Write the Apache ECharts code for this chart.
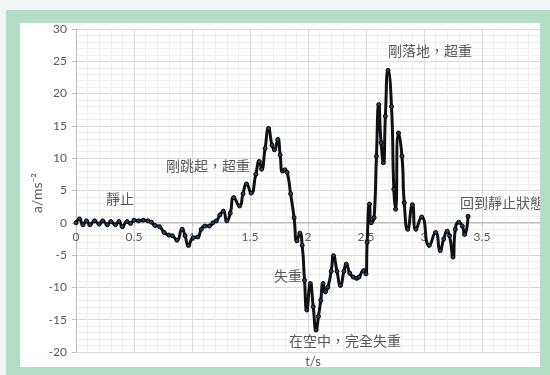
<!DOCTYPE html>
<html>
<head>
<meta charset="utf-8">
<script src="https://cdn.jsdelivr.net/npm/echarts@6/dist/echarts.min.js"></script>
<style>
  html, body { margin: 0; padding: 0; background: #f0f6f6; width: 550px; height: 375px; overflow: hidden; }
  #frame { position: absolute; left: 6px; top: 10px; width: 544px; height: 365px; background: #b3dec5; }
  #chart { position: absolute; left: 20px; top: 23px; width: 520px; height: 344px; background: #ffffff; }
</style>
</head>
<body>
<div id="frame"></div>
<div id="chart"></div>
<script>
// time (s)
var times = [
  0, 0.03, 0.06, 0.09, 0.12, 0.16, 0.20, 0.23, 0.27, 0.30,
  0.34, 0.37, 0.40, 0.44, 0.47, 0.50, 0.54, 0.58, 0.62, 0.65,
  0.68, 0.72, 0.76, 0.80, 0.83, 0.87, 0.915, 0.94, 0.97, 1.01,
  1.05, 1.08, 1.11, 1.15, 1.18, 1.21, 1.24, 1.27, 1.30, 1.33,
  1.36, 1.41, 1.44, 1.47, 1.51, 1.55, 1.58, 1.60, 1.63, 1.66,
  1.69, 1.71, 1.74, 1.76, 1.78, 1.80, 1.82, 1.85, 1.88, 1.905,
  1.93, 1.95, 1.97, 1.99, 2.02, 2.045, 2.07, 2.09, 2.11, 2.13,
  2.15, 2.17, 2.20, 2.22, 2.25, 2.28, 2.31, 2.33, 2.36, 2.39,
  2.42, 2.44, 2.48, 2.50, 2.51, 2.53, 2.545, 2.57, 2.59, 2.61,
  2.63, 2.65, 2.667, 2.69, 2.72, 2.74, 2.755, 2.78, 2.81, 2.83,
  2.86, 2.90, 2.93, 2.98, 3.045, 3.10, 3.14, 3.17, 3.20, 3.22,
  3.25, 3.27, 3.30, 3.33, 3.35, 3.38
];
// acceleration (m/s^2)
var accel = [
  0.0, 0.6, -0.3, 0.3, -0.3, 0.3, -0.2, 0.3, -0.3, 0.2,
  -0.3, 0.2, -0.6, 0.2, -0.1, 0.4, 0.3, 0.4, 0.3, 0.1,
  -0.4, -0.6, -1.5, -1.9, -2.0, -2.7, -1.0, -2.0, -3.5, -2.3,
  -2.2, -1.0, -0.5, -0.5, 0.0, 0.3, 1.2, 1.8, 0.3, 1.5,
  3.9, 2.6, 4.5, 6.0, 4.6, 7.5, 9.5, 8.3, 11.5, 14.6,
  12.0, 11.3, 12.9, 10.5, 8.0, 8.2, 7.8, 4.5, 0.8, -2.8,
  -1.6, -3.5, -8.9, -13.5, -9.4, -13.0, -16.6, -14.5, -12.0, -9.4,
  -10.7, -10.0, -7.5, -5.1, -7.5, -9.7, -7.5, -6.4, -7.8, -8.4,
  -8.6, -8.4, -7.4, -7.9, -3.0, 2.9, 0.0, 0.8, 10.3, 18.3,
  12.4, 9.3, 16.5, 23.6, 18.0, 5.2, 2.1, 13.9, 10.3, 3.1,
  -1.0, 2.8, -1.0, 0.9, -3.5, -1.5, -4.3, -2.5, -1.3, -2.0,
  -5.3, -1.0, 0.1, -0.5, -1.8, 1.0
];
var yTicks = { min: -20, max: 30, interval: 5 };
var xTicks = { min: 0, max: 4, interval: 0.5 };
var notes = [
  { text: '靜止', x: 100, y: 176, align: 'center' },
  { text: '剛跳起，超重', x: 188, y: 143, align: 'center' },
  { text: '失重', x: 268, y: 253, align: 'center' },
  { text: '在空中，完全失重', x: 325, y: 318, align: 'center' },
  { text: '剛落地，超重', x: 410, y: 28, align: 'center' },
  { text: '回到靜止狀態', x: 440, y: 180, align: 'left' }
];

var data = times.map(function (t, i) { return [t, accel[i]]; });
var chart = echarts.init(document.getElementById('chart'), null, { renderer: 'canvas' });
var labelFont = { color: '#595959', fontSize: 12, fontFamily: 'Lato, "Liberation Sans", sans-serif' };
var gridMajor = { show: true, lineStyle: { color: '#d9d9d9', width: 1 } };
var gridMinor = { show: true, lineStyle: { color: '#efefef', width: 1 } };

var gridTop = 4, gridHeight = 325;
// offset to move the x axis (line + labels) up to the y = 0 position
var zeroOffset = -gridHeight * (0 - yTicks.min) / (yTicks.max - yTicks.min);

var graphics = notes.map(function (n) {
  return {
    type: 'text', x: n.x, y: n.y, z: 50,
    style: { text: n.text, fill: '#595959', fontSize: 14, fontFamily: '"Noto Sans CJK TC", sans-serif',
      textAlign: n.align, textVerticalAlign: 'middle' }
  };
});
graphics.push({
  type: 'text', x: 293, y: 339, z: 50,
  style: { text: 't/s', fill: '#595959', fontSize: 13, fontFamily: 'Lato, sans-serif', textAlign: 'center', textVerticalAlign: 'middle' }
});
graphics.push({
  type: 'text', x: 17, y: 170, rotation: Math.PI / 2, z: 50,
  style: { text: 'a/ms⁻²', fill: '#595959', fontSize: 14, fontFamily: 'Lato, "DejaVu Sans", sans-serif', textAlign: 'center', textVerticalAlign: 'middle' }
});

chart.setOption({
  animation: false,
  grid: { left: 56, top: gridTop, width: 476, height: gridHeight },
  xAxis: {
    type: 'value', min: xTicks.min, max: xTicks.max, interval: xTicks.interval,
    position: 'bottom',
    offset: zeroOffset,
    axisLine: { show: true, onZero: false, lineStyle: { color: '#bfbfbf' } },
    axisTick: { show: true, length: 4, lineStyle: { color: '#bfbfbf' } },
    axisLabel: Object.assign({ margin: 9, showMaxLabel: false }, labelFont),
    splitLine: gridMajor,
    minorTick: { show: false, splitNumber: 5 },
    minorSplitLine: gridMinor
  },
  yAxis: {
    type: 'value', min: yTicks.min, max: yTicks.max, interval: yTicks.interval,
    axisLine: { show: true, lineStyle: { color: '#bfbfbf' } },
    axisTick: { show: true, length: 4, lineStyle: { color: '#bfbfbf' } },
    axisLabel: Object.assign({ margin: 9 }, labelFont),
    splitLine: gridMajor,
    minorTick: { show: false, splitNumber: 5 },
    minorSplitLine: gridMinor
  },
  graphic: graphics,
  series: [{
    type: 'line',
    data: data,
    smooth: 0.6,
    showAllSymbol: true,
    symbol: 'circle',
    symbolSize: 4,
    itemStyle: { color: '#24415f', borderColor: '#000', borderWidth: 1 },
    lineStyle: { color: '#111', width: 3 },
    z: 3
  }]
});
</script>
</body>
</html>
